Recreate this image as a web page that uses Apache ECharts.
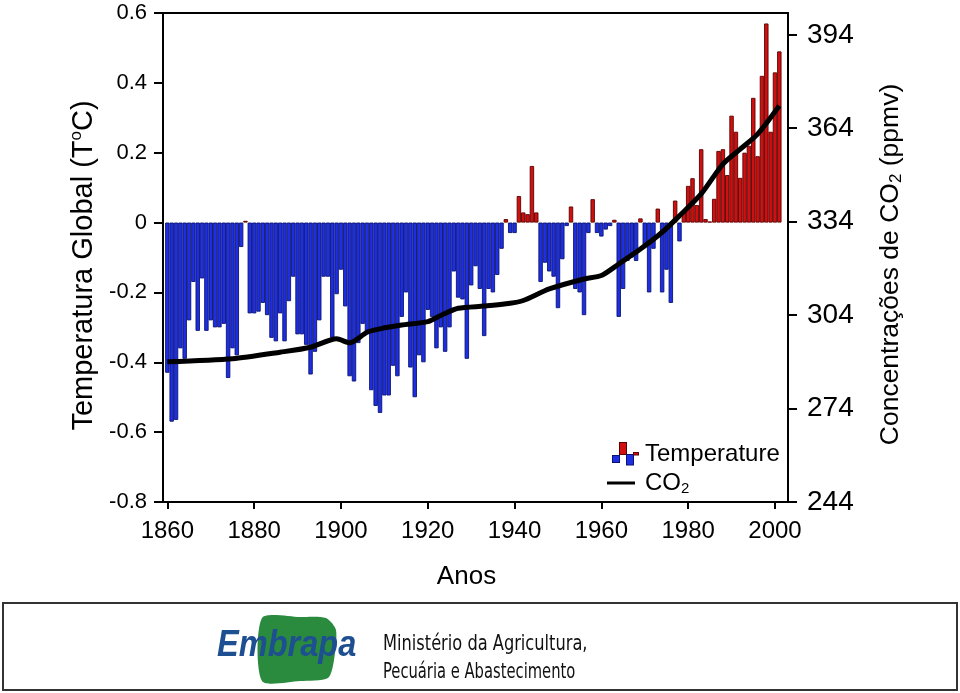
<!DOCTYPE html>
<html>
<head>
<meta charset="utf-8">
<script src="https://cdn.jsdelivr.net/npm/echarts@6/dist/echarts.min.js"></script>
<style>html,body{margin:0;padding:0;background:#fff;}#c{width:960px;height:693px;}</style>
</head>
<body>
<div id="c"></div>
<script>
const firstYear = 1860;
const temp1860s = [-0.43,-0.57,-0.565,-0.36,-0.39,-0.28,-0.17,-0.31,-0.16,-0.31];
const temp1870s = [-0.28,-0.30,-0.30,-0.29,-0.445,-0.36,-0.38,-0.07,0.005,-0.26];
const temp1880s = [-0.26,-0.255,-0.23,-0.265,-0.33,-0.34,-0.26,-0.34,-0.225,-0.155];
const temp1890s = [-0.32,-0.32,-0.35,-0.435,-0.37,-0.28,-0.155,-0.155,-0.33,-0.205];
const temp1900s = [-0.135,-0.24,-0.44,-0.455,-0.345,-0.29,-0.315,-0.48,-0.525,-0.545];
const temp1910s = [-0.495,-0.495,-0.41,-0.44,-0.27,-0.2,-0.415,-0.5,-0.38,-0.40];
const temp1920s = [-0.25,-0.27,-0.36,-0.30,-0.37,-0.30,-0.14,-0.215,-0.22,-0.39];
const temp1930s = [-0.18,-0.125,-0.19,-0.325,-0.19,-0.2,-0.15,-0.075,0.01,-0.03];
const temp1940s = [-0.03,0.076,0.029,0.024,0.162,0.029,-0.17,-0.115,-0.14,-0.155];
const temp1950s = [-0.245,-0.105,-0.01,0.046,-0.19,-0.2,-0.265,-0.03,0.067,-0.03];
const temp1960s = [-0.04,-0.02,-0.01,0.008,-0.27,-0.19,-0.11,-0.10,-0.11,0.012];
const temp1970s = [-0.065,-0.2,-0.075,0.04,-0.2,-0.135,-0.23,0.063,-0.054,0.03];
const temp1980s = [0.105,0.127,0.05,0.21,0.01,0.003,0.068,0.205,0.21,0.136];
const temp1990s = [0.306,0.26,0.128,0.2,0.22,0.357,0.19,0.42,0.57,0.26];
const temp2000s = [0.43,0.49];

const co2Years = [1860,1875,1886,1893,1899,1902,1906,1909,1914,1920,1923,1927,1933,1939,1942,1948,1956,1960,1964,1969,1974,1978,1983,1988,1992,1996,2001];
const co2Ppm   = [289.0,290.0,292.1,293.7,296.4,295.1,298.5,299.6,300.8,301.9,303.9,306.2,306.9,307.8,308.7,312.4,315.6,316.7,320.4,325.2,330.6,335.9,342.9,352.5,357.3,362.1,371.2];

const xTickLabels = [1860,1880,1900,1920,1940,1960,1980,2000];
const rightTickLabels = [244,274,304,334,364,394];

const temps = [].concat(temp1860s,temp1870s,temp1880s,temp1890s,temp1900s,temp1910s,temp1920s,temp1930s,temp1940s,temp1950s,temp1960s,temp1970s,temp1980s,temp1990s,temp2000s);

const RED = '#d01010', RED_B = '#5a0000', BLUE = '#1e2ee2', BLUE_B = '#0a1470';
const barData = temps.map((t, i) => ({
  value: [firstYear + i, t],
  itemStyle: t >= 0 ? {color: RED, borderColor: RED_B, borderWidth: 0.9} : {color: BLUE, borderColor: BLUE_B, borderWidth: 0.9}
}));
const lineData = co2Years.map((y, i) => [y, co2Ppm[i]]);

const tempSvg = '<svg xmlns="http://www.w3.org/2000/svg" width="33" height="24" viewBox="0 0 33 24">' +
  '<rect x="5.5" y="13.5" width="7" height="7" fill="#1e2ee2" stroke="#0a1470"/>' +
  '<rect x="12.5" y="0.5" width="7" height="12" fill="#d01010" stroke="#5a0000"/>' +
  '<rect x="19.5" y="12.5" width="7" height="10.5" fill="#1e2ee2" stroke="#0a1470"/>' +
  '<rect x="26.5" y="10.5" width="5" height="2.5" fill="#d01010" stroke="#5a0000"/>' +
  '</svg>';
const lineSvg = '<svg xmlns="http://www.w3.org/2000/svg" width="33" height="24" viewBox="0 0 33 24">' +
  '<rect x="0" y="10.5" width="28" height="3" fill="#000"/></svg>';
const tempIcon = 'image://data:image/svg+xml;charset=utf-8,' + encodeURIComponent(tempSvg);
const lineIcon = 'image://data:image/svg+xml;charset=utf-8,' + encodeURIComponent(lineSvg);

const FONT = 'Liberation Sans, Arial, sans-serif';
const NARROW = 'Liberation Sans Narrow, DejaVu Sans Condensed, sans-serif';
const chart = echarts.init(document.getElementById('c'), null, {renderer: 'canvas'});
chart.setOption({
  backgroundColor: '#ffffff',
  animation: false,
  grid: {left: 163, right: 172, top: 13, bottom: 191, show: true, borderColor: '#000', borderWidth: 2, backgroundColor: 'transparent'},
  legend: {
    orient: 'vertical', left: 602, top: 437, itemWidth: 33, itemHeight: 24, itemGap: 5, itemStyle: {borderWidth: 0},
    textStyle: {fontFamily: FONT, fontSize: 24, color: '#000', rich: {sub: {fontFamily: FONT, fontSize: 15, verticalAlign: 'bottom', padding: [11,0,0,0]}}},
    formatter: n => n === 'CO2' ? 'CO{sub|2}' : n,
    data: [{name: 'Temperature', icon: tempIcon}, {name: 'CO2', icon: lineIcon}]
  },
  xAxis: {
    type: 'value', min: 1859, max: 2003,
    name: 'Anos', nameLocation: 'middle', nameGap: 62,
    nameTextStyle: {fontFamily: FONT, fontSize: 26, color: '#000', padding: [0, 18, 0, 0]},
    axisLine: {show: true, onZero: false, lineStyle: {color: '#000', width: 2}},
    axisTick: {show: true, inside: false, length: 7, lineStyle: {color: '#000', width: 2}, customValues: xTickLabels},
    axisLabel: {fontFamily: FONT, fontSize: 24, color: '#000', margin: 17, customValues: xTickLabels, formatter: v => String(v)},
    splitLine: {show: false}
  },
  yAxis: [{
    type: 'value', min: -0.8, max: 0.6, interval: 0.2, position: 'left',
    name: 'Temperatura Global (T{sup|o}C)', nameLocation: 'middle', nameRotate: 90, nameGap: 63,
    nameTextStyle: {fontFamily: FONT, fontSize: 29, color: '#000', padding: [0, 16, 0, 0], rich: {sup: {fontFamily: FONT, fontSize: 17, verticalAlign: 'top', padding: [0,0,14,0]}}},
    axisLine: {show: true, onZero: false, lineStyle: {color: '#000', width: 2}},
    axisTick: {show: true, inside: false, length: 9, lineStyle: {color: '#000', width: 2}},
    axisLabel: {fontFamily: FONT, fontSize: 22, color: '#000', margin: 16, formatter: v => Math.abs(v) < 1e-9 ? '0' : v.toFixed(1)},
    splitLine: {show: false}
  }, {
    type: 'value', min: 244, max: 401, position: 'right',
    name: 'Concentrações de CO{sub|2} (ppmv)', nameLocation: 'middle', nameRotate: 90, nameGap: 88,
    nameTextStyle: {fontFamily: FONT, fontSize: 26.5, color: '#000', padding: [0, 14, 0, 0], rich: {sub: {fontFamily: FONT, fontSize: 17, verticalAlign: 'bottom', padding: [12,0,0,0]}}},
    axisLine: {show: true, onZero: false, lineStyle: {color: '#000', width: 2}},
    axisTick: {show: true, inside: false, length: 9, lineStyle: {color: '#000', width: 2}, customValues: rightTickLabels},
    axisLabel: {fontFamily: FONT, fontSize: 28, color: '#000', margin: 19, customValues: rightTickLabels, formatter: v => String(v)},
    splitLine: {show: false}
  }],
  series: [{
    name: 'Temperature', type: 'bar', yAxisIndex: 0, barWidth: 4.4, data: barData,
    itemStyle: {color: RED}
  }, {
    name: 'CO2', type: 'line', yAxisIndex: 1, data: lineData, smooth: 0.25,
    showSymbol: false, symbol: 'none', lineStyle: {color: '#000', width: 5}, itemStyle: {color: '#000'}, z: 5
  }],
  graphic: [
    {type: 'rect', shape: {x: 3, y: 603, width: 954, height: 87}, style: {fill: 'none', stroke: '#333', lineWidth: 2}},
    {type: 'polygon', shape: {points: [[262,618],[300,617],[326,618],[336,630],[334,660],[328,678],[300,681],[262,681]], smooth: 0.25}, style: {fill: '#2a8a3e'}},
    {type: 'text', x: 217, y: 646, scaleX: 0.88, style: {text: 'Embrapa', fontFamily: FONT, fontStyle: 'italic', fontWeight: 'bold', fontSize: 37, fill: '#1d4f91', verticalAlign: 'middle'}},
    {type: 'text', x: 383, y: 644, scaleX: 0.82, style: {text: 'Ministério da Agricultura,', fontFamily: NARROW, fontSize: 22, fill: '#111', verticalAlign: 'middle'}},
    {type: 'text', x: 383, y: 672, scaleX: 0.745, style: {text: 'Pecuária e Abastecimento', fontFamily: NARROW, fontSize: 22, fill: '#111', verticalAlign: 'middle'}}
  ]
});
</script>
</body>
</html>
